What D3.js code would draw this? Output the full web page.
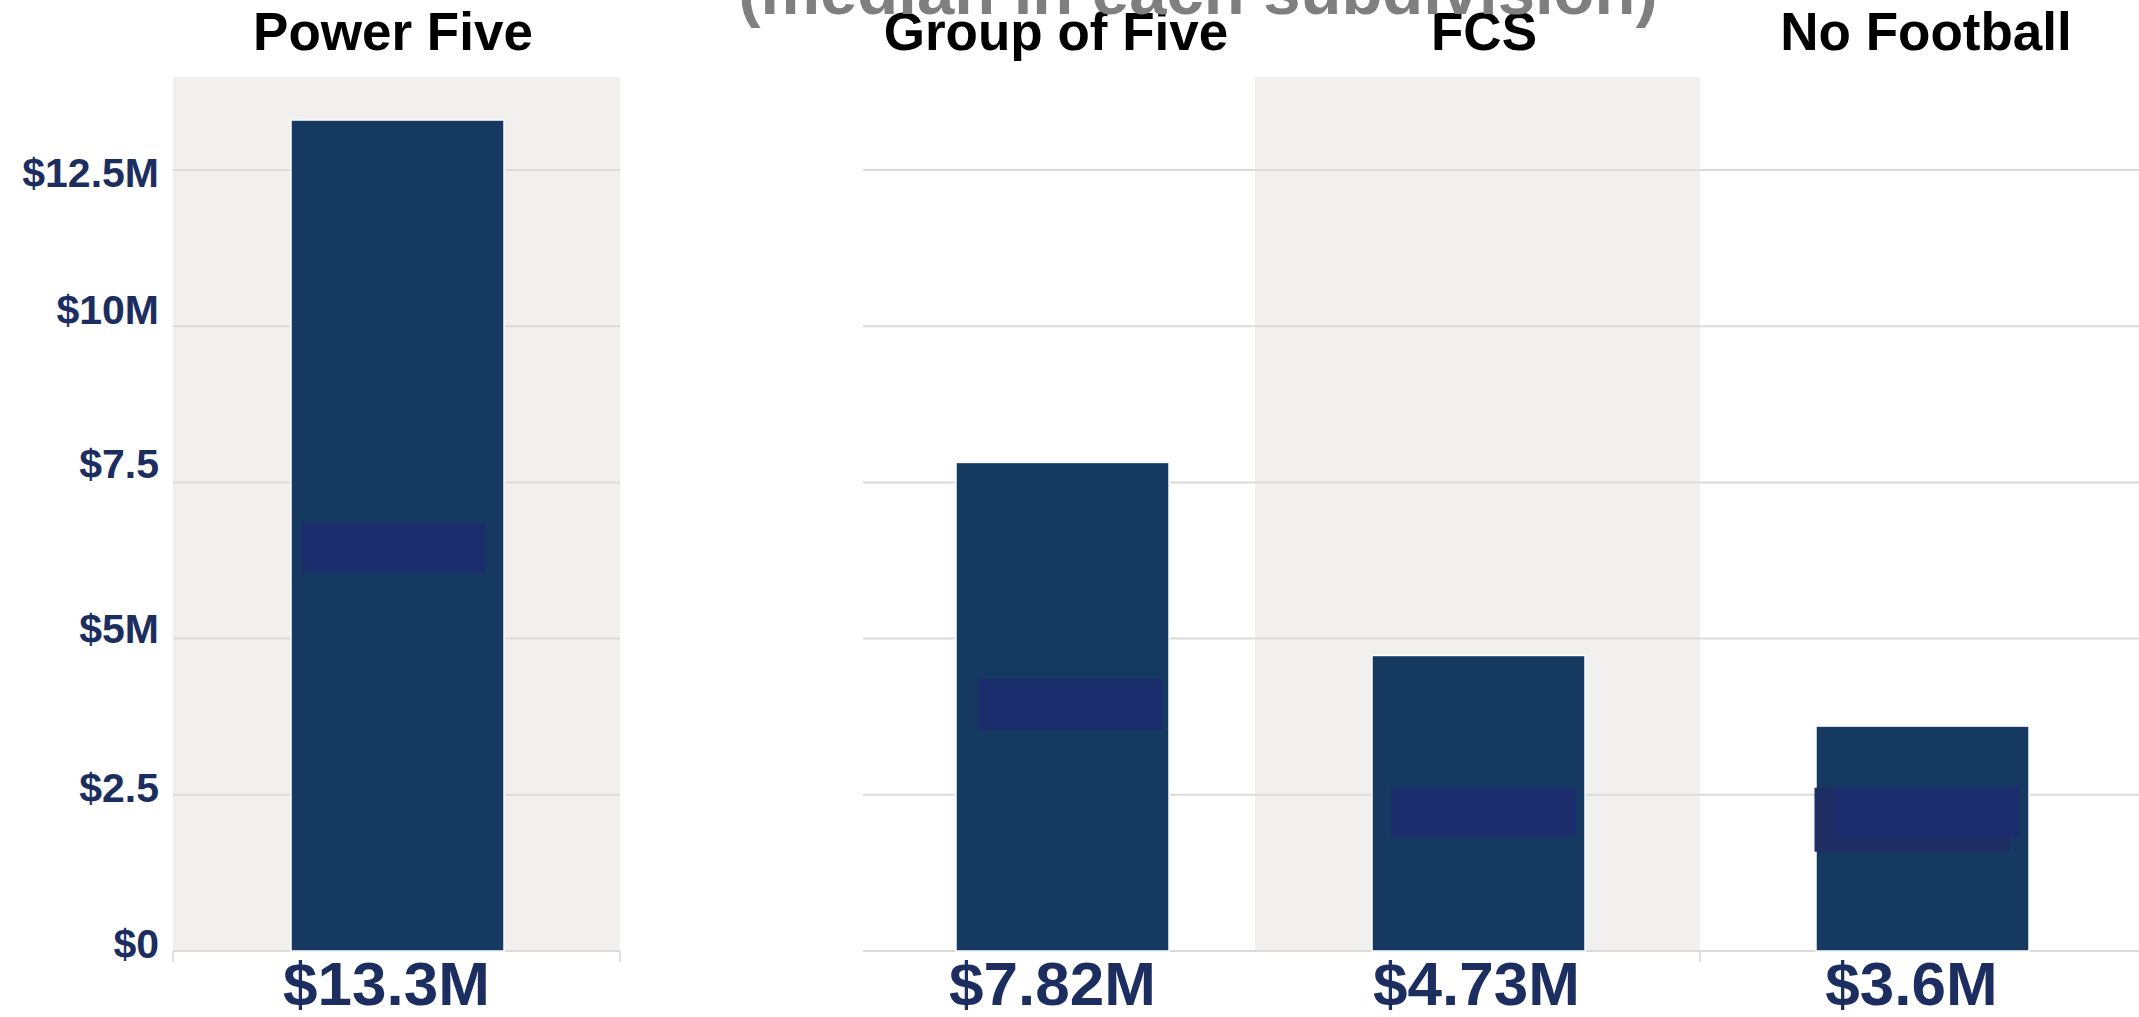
<!DOCTYPE html>
<html lang="en">
<head>
    <meta charset="UTF-8">
    <title>Median by subdivision</title>
    <script src="https://d3js.org/d3.v7.min.js"></script>
    <style>
        body {
            margin: 0;
            background: #fff;
        }
        text {
            font-family: "Liberation Sans", Arial, sans-serif;
            font-weight: bold;
        }
    </style>
</head>
<body>
    <div id="chart"></div>

    <script>
        // chart data
        const subdivisions = ["Power Five", "Group of Five", "FCS", "No Football"];
        const medianValues = [13.3, 7.82, 4.73, 3.6];      // $ millions
        const tickValues = [0, 2.5, 5, 7.5, 10, 12.5];
        const tickLabels = ["$0", "$2.5", "$5M", "$7.5", "$10M", "$12.5M"];
        const hiddenLabelMid = [6.46, 3.95, 2.23, 2.23];    // covered in-bar labels ($M)
        const subtitle = "(median in each subdivision)";

        // layout
        const width = 2139, height = 1017;
        const barCenters = [397.5, 1062.5, 1478.5, 1922.5];
        const titleCenters = [393, 1056, 1484, 1926];
        const valueShift = [-11, -10, -2, -11];
        const panels = [
            {x0: 173, x1: 620, shaded: true},
            {x0: 863, x1: 1255, shaded: false},
            {x0: 1255, x1: 1700, shaded: true},
            {x0: 1700, x1: 2139, shaded: false}
        ];
        const tickNudge = [6, 7, 4, -5, -3, 16];
        const maskShift = [-4, 8, 5, 5];
        const navy = "#1c2d5f";

        const svg = d3.select("#chart")
            .append("svg")
            .attr("width", width)
            .attr("height", height);

        const y = d3.scaleLinear()
            .domain([0, 12.5])
            .range([951, 170]);

        const x = d3.scaleOrdinal()
            .domain(subdivisions)
            .range(barCenters);

        const barW = 213;

        // panel backgrounds
        svg.selectAll("rect.panel")
            .data(panels.filter(p => p.shaded))
            .join("rect")
            .attr("class", "panel")
            .attr("x", d => d.x0)
            .attr("y", 77)
            .attr("width", d => d.x1 - d.x0)
            .attr("height", y(0) - 77)
            .attr("fill", "#f1f0ee");

        // gridlines per panel
        panels.forEach(p => {
            svg.append("g")
                .selectAll("line")
                .data(tickValues)
                .join("line")
                .attr("x1", p.x0)
                .attr("x2", p.x1)
                .attr("y1", d => y(d))
                .attr("y2", d => y(d))
                .attr("stroke", "#dcdbd9")
                .attr("stroke-width", 2);
        });

        // small end ticks under the zero line
        svg.selectAll("line.endtick")
            .data([173, 620, 1700])
            .join("line")
            .attr("class", "endtick")
            .attr("x1", d => d)
            .attr("x2", d => d)
            .attr("y1", y(0))
            .attr("y2", y(0) + 11)
            .attr("stroke", "#d6d6dc")
            .attr("stroke-width", 1.5);

        // y axis labels
        const yAxis = svg.append("g")
            .attr("transform", "translate(173,0)")
            .call(d3.axisLeft(y)
                .tickValues(tickValues)
                .tickFormat((d, i) => tickLabels[i])
                .tickSize(0)
                .tickPadding(14));
        yAxis.select(".domain").remove();
        yAxis.selectAll("text")
            .attr("dy", (d, i) => tickNudge[i])
            .attr("fill", navy)
            .style("font-size", "41px");

        // bars
        svg.selectAll("rect.bar")
            .data(medianValues)
            .join("rect")
            .attr("class", "bar")
            .attr("x", (d, i) => x(subdivisions[i]) - barW / 2)
            .attr("y", d => y(d))
            .attr("width", barW)
            .attr("height", d => y(0) - y(d))
            .attr("fill", "#163962")
            .attr("stroke", "#fbfdff")
            .attr("stroke-width", 1.5);

        // extra cover box on the last bar
        svg.append("rect")
            .attr("x", x(subdivisions[3]) - 108)
            .attr("y", y(hiddenLabelMid[3]) - 24)
            .attr("width", 195)
            .attr("height", 64)
            .attr("fill", "#1e2d62");

        // boxes covering in-bar labels
        svg.selectAll("rect.mask")
            .data(hiddenLabelMid)
            .join("rect")
            .attr("class", "mask")
            .attr("x", (d, i) => x(subdivisions[i]) + maskShift[i] - 92)
            .attr("y", d => y(d) - 25)
            .attr("width", 184)
            .attr("height", 51)
            .attr("fill", "#1b2d6c");

        // value labels below bars
        svg.selectAll("text.value")
            .data(medianValues)
            .join("text")
            .attr("class", "value")
            .attr("x", (d, i) => x(subdivisions[i]) + valueShift[i])
            .attr("y", 1005)
            .attr("text-anchor", "middle")
            .attr("fill", navy)
            .style("font-size", "62px")
            .text(d => "$" + d + "M");

        // panel titles
        svg.selectAll("text.title")
            .data(subdivisions)
            .join("text")
            .attr("class", "title")
            .attr("x", (d, i) => titleCenters[i])
            .attr("y", 50)
            .attr("text-anchor", "middle")
            .attr("fill", "#000")
            .style("font-size", "53px")
            .text(d => d);

        // subtitle, cut off at the top
        svg.append("text")
            .attr("x", 1198)
            .attr("y", 14)
            .attr("text-anchor", "middle")
            .attr("fill", "#7f7f7f")
            .style("font-size", "67px")
            .text(subtitle);
    </script>
</body>
</html>
